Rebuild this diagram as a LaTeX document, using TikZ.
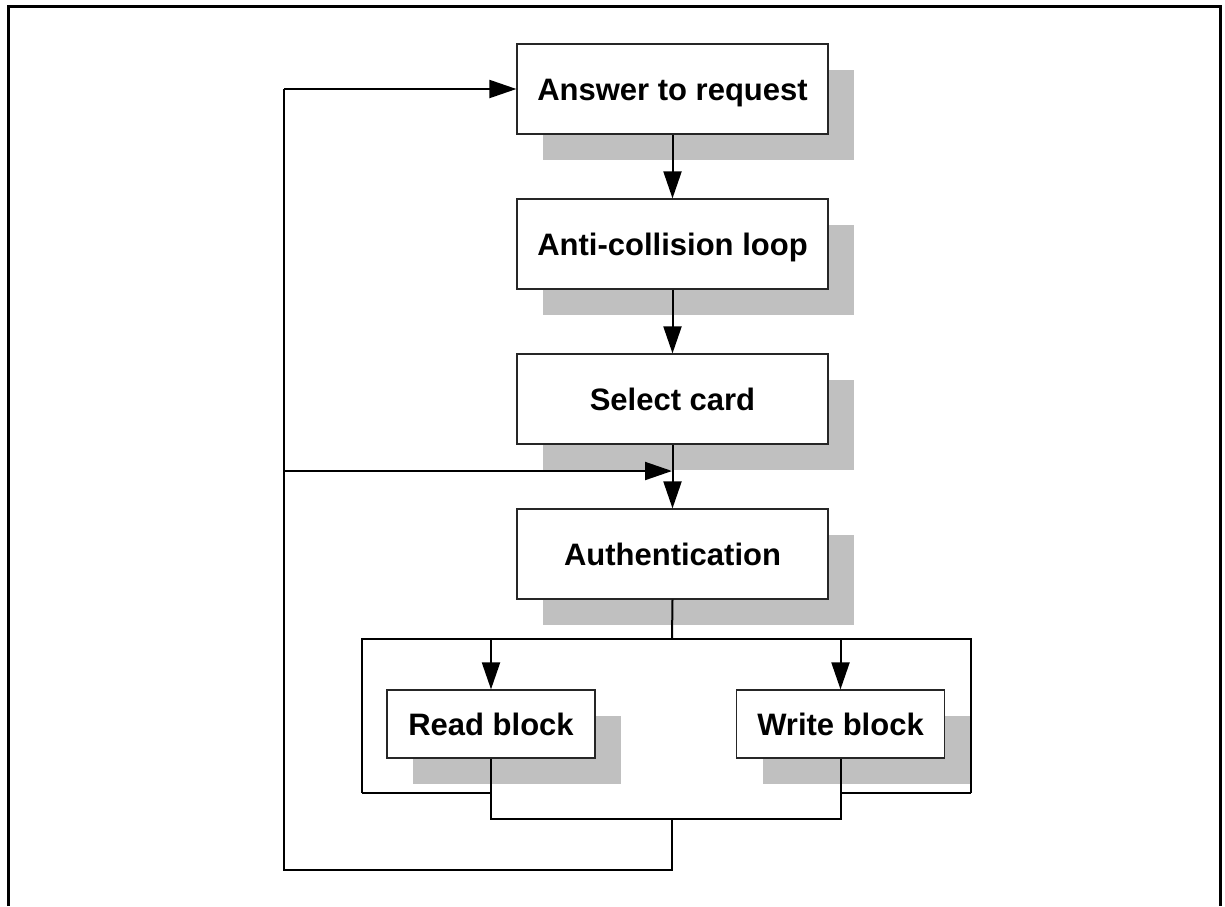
\documentclass[tikz,border=0pt]{standalone}
\usepackage{fontspec}
\setmainfont{Liberation Sans}
\usetikzlibrary{arrows.meta,shadows}
\definecolor{shadowgray}{RGB}{192,192,192}
\begin{document}
\begin{tikzpicture}[x=1pt,y=-1pt,
  stepbox/.style={draw=black!85,line width=1.2pt,fill=white,inner sep=0pt,
    minimum width=311pt,minimum height=90pt,
    text height=22pt,text depth=0pt,
    font=\fontsize{31}{36}\selectfont\bfseries,
    drop shadow={shadow xshift=26pt,shadow yshift=-26pt,fill=shadowgray,opacity=1,draw=none}},
  smallbox/.style={stepbox,minimum width=208pt,minimum height=68pt},
  conn/.style={line width=2pt,line join=miter},
  arr/.style={conn,-{Triangle[length=27pt,width=18pt]}},
  frame/.style={line width=3pt}]
\useasboundingbox (0,0) rectangle (1225,906);
\draw[frame] (8.5,906) -- (8.5,6.5) -- (1220.5,6.5) -- (1220.5,906);

\node[stepbox] (ans) at (672.5,89) {Answer to request};
\node[stepbox] (anti) at (672.5,244) {Anti-collision loop};
\node[stepbox] (sel) at (672.5,399) {Select card};
\node[stepbox] (auth) at (672.5,554) {Authentication};
\node[smallbox] (read) at (491,724) {Read block};
\node[smallbox] (write) at (840.5,724) {Write block};

\coordinate (split) at (672,639);
\coordinate (bl) at (362,639);
\coordinate (br) at (971,639);
\coordinate (rtop) at (491,639);
\coordinate (wtop) at (840.5,639);
\coordinate (blb) at (362,793);
\coordinate (brb) at (971,793);
\coordinate (rmid) at (491,793);
\coordinate (wmid) at (840.5,793);
\coordinate (rbot) at (491,819);
\coordinate (wbot) at (840.5,819);
\coordinate (merge) at (672,819);
\coordinate (mdown) at (672,870);
\coordinate (lbot) at (284,870);
\coordinate (ltop) at (284,89);
\coordinate (lmid) at (284,471);
\coordinate (jn) at (672,471);

\draw[arr] (ans.south) -- (anti.north);
\draw[arr] (anti.south) -- (sel.north);
\draw[arr] (sel.south) -- (auth.north);
\draw[conn] (auth.south) -- (split);
\draw[conn] (blb) -- (bl) -- (br) -- (brb);
\draw[conn] (blb) -- (rmid);
\draw[conn] (brb) -- (wmid);
\draw[arr] (rtop) -- (read.north);
\draw[arr] (wtop) -- (write.north);
\draw[conn] (read.south) -- (rbot) -- (wbot) -- (write.south);
\draw[conn] (merge) -- (mdown) -- (lbot) -- (ltop);
\draw[arr] (ltop) -- (ans.west);
\draw[arr] (lmid) -- (jn);
\end{tikzpicture}
\end{document}
